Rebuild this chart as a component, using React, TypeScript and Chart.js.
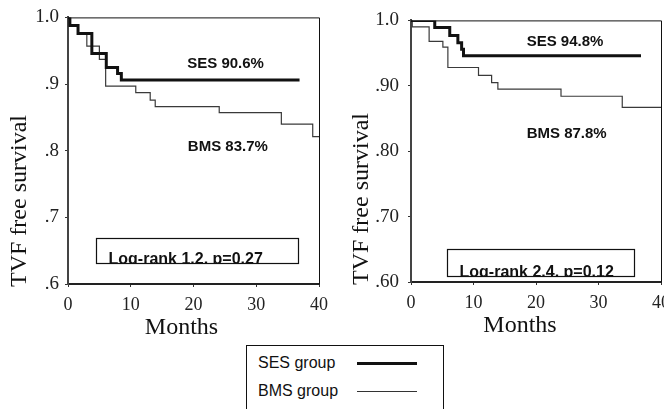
import React, { useEffect, useRef } from 'react';
import { Chart, registerables } from 'chart.js';

Chart.register(...registerables);

const SERIF = "'Liberation Serif', 'Times New Roman', serif";
const SANS = "'Liberation Sans', Arial, sans-serif";
Chart.defaults.font.family = SERIF;

// ---------- data ----------
const seriesNames = ['SES group', 'BMS group'];
const xTickLabels = ['0', '10', '20', '30', '40'];
const leftYTickLabels = ['.6', '.7', '.8', '.9', '1.0'];
const rightYTickLabels = ['.60', '.70', '.80', '.90', '1.0'];

// Left panel (Kaplan–Meier steps: month of event, survival after event)
const leftSesMonths = [0, 0.3, 1.6, 3.8, 6.1, 7.9, 8.5, 36.9];
const leftSesSurv = [1.0, 0.988, 0.976, 0.946, 0.925, 0.916, 0.906, 0.906];
const leftBmsMonths = [0, 0.3, 1.6, 3.0, 5.0, 6.0, 10.8, 13.1, 13.9, 24.1, 34.0, 39.0, 40];
const leftBmsSurv = [1.0, 0.988, 0.976, 0.957, 0.937, 0.897, 0.887, 0.876, 0.866, 0.857, 0.84, 0.821, 0.821];

// Right panel
const rightSesMonths = [0, 3.8, 6.2, 7.5, 8.1, 8.4, 36.8];
const rightSesSurv = [1.0, 0.989, 0.977, 0.966, 0.956, 0.946, 0.946];
const rightBmsMonths = [0, 0.2, 2.9, 5.1, 5.9, 10.8, 12.9, 13.9, 24.0, 33.8, 40];
const rightBmsSurv = [1.0, 0.99, 0.968, 0.959, 0.928, 0.916, 0.905, 0.895, 0.884, 0.867, 0.867];

const leftSesLabel = 'SES 90.6%';
const leftBmsLabel = 'BMS 83.7%';
const leftLogRank = 'Log-rank 1.2, p=0.27';
const rightSesLabel = 'SES 94.8%';
const rightBmsLabel = 'BMS 87.8%';
const rightLogRank = 'Log-rank 2.4, p=0.12';

const yTitle = 'TVF free survival';
const xTitle = 'Months';

type PanelCfg = {
  left: number;
  width: number;
  height: number;
  yWidth: number;
  padTop: number;
  padRight: number;
  xHeight: number;
  yLabels: string[];
  yTickPad: number;
  sesM: number[];
  sesS: number[];
  bmsM: number[];
  bmsS: number[];
  sesLabel: string;
  sesPos: [number, number];
  bmsLabel: string;
  bmsPos: [number, number];
  logRank: string;
  box: [number, number, number, number]; // x0, x1, yTop, yBottom in data units
  yTitleX: number;
  xTitleShift: number;
};

const makeDecor = (cfg: PanelCfg) => ({
  id: 'decor',
  afterDraw(chart: any) {
    const ctx = chart.ctx as CanvasRenderingContext2D;
    const a = chart.chartArea;
    const xs = chart.scales.x;
    const ys = chart.scales.y;
    ctx.save();
    // frame top & right
    ctx.strokeStyle = '#111';
    ctx.lineWidth = 1;
    ctx.beginPath();
    ctx.moveTo(a.left, a.top + 0.5);
    ctx.lineTo(a.right + 0.5, a.top + 0.5);
    ctx.lineTo(a.right + 0.5, a.bottom);
    ctx.stroke();

    // y title
    ctx.fillStyle = '#111';
    ctx.font = `24px ${SERIF}`;
    ctx.save();
    ctx.translate(cfg.yTitleX, a.bottom + 3);
    ctx.rotate(-Math.PI / 2);
    ctx.textAlign = 'left';
    ctx.textBaseline = 'middle';
    ctx.fillText(yTitle, 0, 0);
    ctx.restore();

    // x title
    ctx.font = `24px ${SERIF}`;
    ctx.textAlign = 'center';
    ctx.textBaseline = 'middle';
    ctx.fillText(xTitle, (a.left + a.right) / 2 + cfg.xTitleShift, a.bottom + 44);

    // group labels
    ctx.font = `bold 15px ${SANS}`;
    ctx.textAlign = 'left';
    ctx.fillText(cfg.sesLabel, xs.getPixelForValue(cfg.sesPos[0]), ys.getPixelForValue(cfg.sesPos[1]));
    ctx.fillText(cfg.bmsLabel, xs.getPixelForValue(cfg.bmsPos[0]), ys.getPixelForValue(cfg.bmsPos[1]));

    // log-rank box
    const bx0 = Math.round(xs.getPixelForValue(cfg.box[0])) + 0.5;
    const bx1 = Math.round(xs.getPixelForValue(cfg.box[1])) + 0.5;
    const by0 = Math.round(ys.getPixelForValue(cfg.box[2])) + 0.5;
    const by1 = Math.round(ys.getPixelForValue(cfg.box[3])) + 0.5;
    ctx.fillStyle = '#fff';
    ctx.fillRect(bx0, by0, bx1 - bx0, by1 - by0);
    ctx.save();
    ctx.beginPath();
    ctx.rect(bx0, by0, bx1 - bx0, by1 - by0);
    ctx.clip();
    ctx.fillStyle = '#111';
    ctx.font = `bold 16px ${SANS}`;
    ctx.textBaseline = 'alphabetic';
    ctx.textAlign = 'left';
    ctx.fillText(cfg.logRank, bx0 + 12, by1 + 0.5);
    ctx.restore();
    ctx.strokeStyle = '#111';
    ctx.lineWidth = 1.2;
    ctx.strokeRect(bx0, by0, bx1 - bx0, by1 - by0);
    ctx.restore();
  },
});

function Panel({ cfg }: { cfg: PanelCfg }) {
  const ref = useRef<HTMLCanvasElement | null>(null);
  useEffect(() => {
    if (!ref.current) return;
    const toPts = (m: number[], s: number[]) => m.map((v, i) => ({ x: v, y: s[i] }));
    const chart = new Chart(ref.current, {
      type: 'line',
      data: {
        datasets: [
          {
            label: seriesNames[0],
            data: toPts(cfg.sesM, cfg.sesS),
            borderColor: '#111',
            borderWidth: 3,
            stepped: true,
            pointRadius: 0,
            fill: false,
          },
          {
            label: seriesNames[1],
            data: toPts(cfg.bmsM, cfg.bmsS),
            borderColor: '#3a3a3a',
            borderWidth: 1.2,
            stepped: true,
            pointRadius: 0,
            fill: false,
          },
        ],
      },
      options: {
        animation: false,
        responsive: false,
        devicePixelRatio: 1,
        font: { family: SERIF },
        layout: { padding: { left: 0, top: cfg.padTop, right: cfg.padRight, bottom: 0 } },
        plugins: { legend: { display: false }, tooltip: { enabled: false } },
        scales: {
          x: {
            type: 'linear',
            min: 0,
            max: 40,
            ticks: {
              stepSize: 10,
              color: '#222',
              font: { size: 18, family: SERIF },
              padding: 7,
              maxRotation: 0,
              callback: (_v: any, i: number) => xTickLabels[i],
            },
            grid: { display: true, drawOnChartArea: false, drawTicks: true, tickLength: 3, color: '#333' },
            border: { color: '#222', width: 2 },
            afterFit: (s: any) => {
              s.height = cfg.xHeight;
            },
          },
          y: {
            type: 'linear',
            min: 0.6,
            max: 1.0,
            ticks: {
              stepSize: 0.1,
              color: '#222',
              font: { size: 19, family: SERIF },
              padding: cfg.yTickPad,
              callback: (_v: any, i: number) => cfg.yLabels[i],
            },
            grid: { display: true, drawOnChartArea: false, drawTicks: true, tickLength: 3, color: '#333' },
            border: { color: '#444', width: 2 },
            afterFit: (s: any) => {
              s.width = cfg.yWidth;
            },
          },
        },
      },
      plugins: [makeDecor(cfg)],
    } as any);
    return () => chart.destroy();
  }, [cfg]);
  return (
    <canvas
      ref={ref}
      width={cfg.width}
      height={cfg.height}
      style={{ position: 'absolute', left: cfg.left, top: 0, width: cfg.width, height: cfg.height }}
    />
  );
}

const leftCfg: PanelCfg = {
  left: 0,
  width: 335,
  height: 345,
  yWidth: 68,
  padTop: 17,
  padRight: 10,
  xHeight: 345 - 284,
  yLabels: leftYTickLabels,
  yTickPad: 6,
  sesM: leftSesMonths,
  sesS: leftSesSurv,
  bmsM: leftBmsMonths,
  bmsS: leftBmsSurv,
  sesLabel: leftSesLabel,
  sesPos: [19.0, 0.931],
  bmsLabel: leftBmsLabel,
  bmsPos: [19.1, 0.806],
  logRank: leftLogRank,
  box: [4.4, 36.7, 0.669, 0.632],
  yTitleX: 20,
  xTitleShift: -12,
};

const rightCfg: PanelCfg = {
  left: 335,
  width: 345,
  height: 345,
  yWidth: 76,
  padTop: 16,
  padRight: 19,
  xHeight: 345 - 282,
  yLabels: rightYTickLabels,
  yTickPad: 9,
  sesM: rightSesMonths,
  sesS: rightSesSurv,
  bmsM: rightBmsMonths,
  bmsS: rightBmsSurv,
  sesLabel: rightSesLabel,
  sesPos: [18.5, 0.967],
  bmsLabel: rightBmsLabel,
  bmsPos: [18.5, 0.826],
  logRank: rightLogRank,
  box: [5.7, 35.7, 0.651, 0.609],
  yTitleX: 27,
  xTitleShift: -16,
};

export default function App() {
  return (
    <div
      style={{
        position: 'absolute',
        left: 0,
        top: 0,
        width: 664,
        height: 409,
        overflow: 'hidden',
        background: '#fff',
      }}
    >
      <Panel cfg={leftCfg} />
      <Panel cfg={rightCfg} />
      <div
        style={{
          position: 'absolute',
          left: 246,
          top: 345,
          width: 198,
          height: 100,
          border: '1.5px solid #111',
          boxSizing: 'border-box',
          background: '#fff',
          fontFamily: SANS,
          fontSize: 16,
          color: '#111',
        }}
      >
        {seriesNames.map((name, i) => (
          <div key={name} style={{ position: 'absolute', left: 0, top: 5 + i * 28, width: '100%', height: 24 }}>
            <span style={{ position: 'absolute', left: 11, top: 2, lineHeight: '20px', whiteSpace: 'nowrap' }}>{name}</span>
            <span
              style={{
                position: 'absolute',
                left: 110,
                width: 60,
                top: i === 0 ? 10.5 : 11.5,
                height: i === 0 ? 3 : 1,
                background: i === 0 ? '#111' : '#333',
              }}
            />
          </div>
        ))}
      </div>
    </div>
  );
}
